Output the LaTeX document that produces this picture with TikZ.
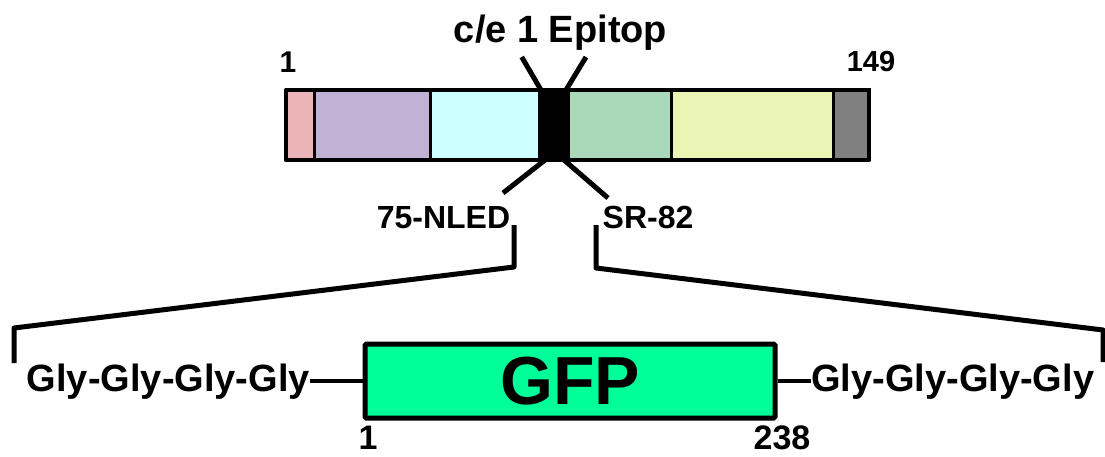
\documentclass[tikz,border=0pt]{standalone}
\usepackage{fontspec}
\setmainfont{Liberation Sans}
\definecolor{segpink}{HTML}{EBB5B8}
\definecolor{segviolet}{HTML}{C0B1D5}
\definecolor{segcyan}{HTML}{CCFFFF}
\definecolor{segsea}{HTML}{AAD9BA}
\definecolor{segyellow}{HTML}{EAF4B4}
\definecolor{seggray}{HTML}{808080}
\definecolor{gfpgreen}{HTML}{00FF99}
\tikzset{
  seg/.style={draw=black, line width=3, inner sep=0, outer sep=0,
    minimum height=70, anchor=west},
  frame/.style={draw=black, line width=4.5, line join=round},
  tick/.style={draw=black, line width=5},
  bracket/.style={draw=black, line width=5, line join=round},
  lab/.style={inner sep=0, font=\bfseries\fontsize{#1}{#1}\selectfont},
  lab/.default=32,
  gfpbox/.style={draw=black, fill=gfpgreen, line width=5, rounded corners=1.5,
    minimum width=410, minimum height=74, inner sep=0,
    font=\bfseries\fontsize{68}{68}\selectfont},
}
\begin{document}
\begin{tikzpicture}[x=1pt, y=-1pt]
\useasboundingbox (0,0) rectangle (1105,457);

% domain bar, residues 1-149
\node[seg, fill=segpink,   minimum width=28]  (s1) at (286,125) {};
\node[seg, fill=segviolet, minimum width=116] (s2) at (314,125) {};
\node[seg, fill=segcyan,   minimum width=109] (s3) at (430,125) {};
\node[seg, fill=black,     minimum width=29]  (s4) at (539,125) {};
\node[seg, fill=segsea,    minimum width=103] (s5) at (568,125) {};
\node[seg, fill=segyellow, minimum width=162] (s6) at (671,125) {};
\node[seg, fill=seggray,   minimum width=36]  (s7) at (833,125) {};
\draw[frame] (s1.north west) rectangle (s7.south east);

\node[lab=30, anchor=base] (n1)   at (288,73) {1};
\node[lab=29, anchor=base] (n149) at (871,72) {149};

% epitope markers
\node[lab=38, anchor=base] (epi) at (560.5,43) {c/e 1 Epitop};
\coordinate (et1) at (521.7,57);
\coordinate (et2) at (586,57);
\draw[tick] ([xshift=2]s4.north west) -- (et1);
\draw[tick] ([xshift=-2]s4.north east) -- (et2);

\node[lab=32, anchor=base] (nled) at (443.5,229) {75-NLED};
\node[lab=32, anchor=base] (sr)   at (648,229) {SR-82};
\coordinate (eb1) at (503,193);
\coordinate (eb2) at (608,198);
\draw[tick] ([xshift=6]s4.south west) -- (eb1);
\draw[tick] ([xshift=-4]s4.south east) -- (eb2);

% zoom bracket down to the insert
\coordinate (bl0) at (514,225);
\coordinate (bl1) at (514,267);
\coordinate (bl2) at (14,328);
\coordinate (bl3) at (14,363);
\coordinate (br0) at (596,225);
\coordinate (br1) at (596,268);
\coordinate (br2) at (1103,330);
\coordinate (br3) at (1103,362);
\draw[bracket] (bl0) -- (bl1) -- (bl2) -- (bl3);
\draw[bracket] (br0) -- (br1) -- (br2) -- (br3);

% GFP insert with glycine linkers
\node[gfpbox] (gfp) at (570,381) {GFP};
\node[lab=38, anchor=base east] (glyL) at (310,391) {Gly-Gly-Gly-Gly};
\node[lab=38, anchor=base west] (glyR) at (811,391) {Gly-Gly-Gly-Gly};
\draw[tick, line width=4] (gfp.west) -- (gfp.west -| glyL.east);
\draw[tick, line width=4] (gfp.east) -- (gfp.east -| glyR.west);

\node[lab=34, anchor=base] (g1)   at (368,449) {1};
\node[lab=34, anchor=base] (g238) at (782,449) {238};
\end{tikzpicture}
\end{document}
